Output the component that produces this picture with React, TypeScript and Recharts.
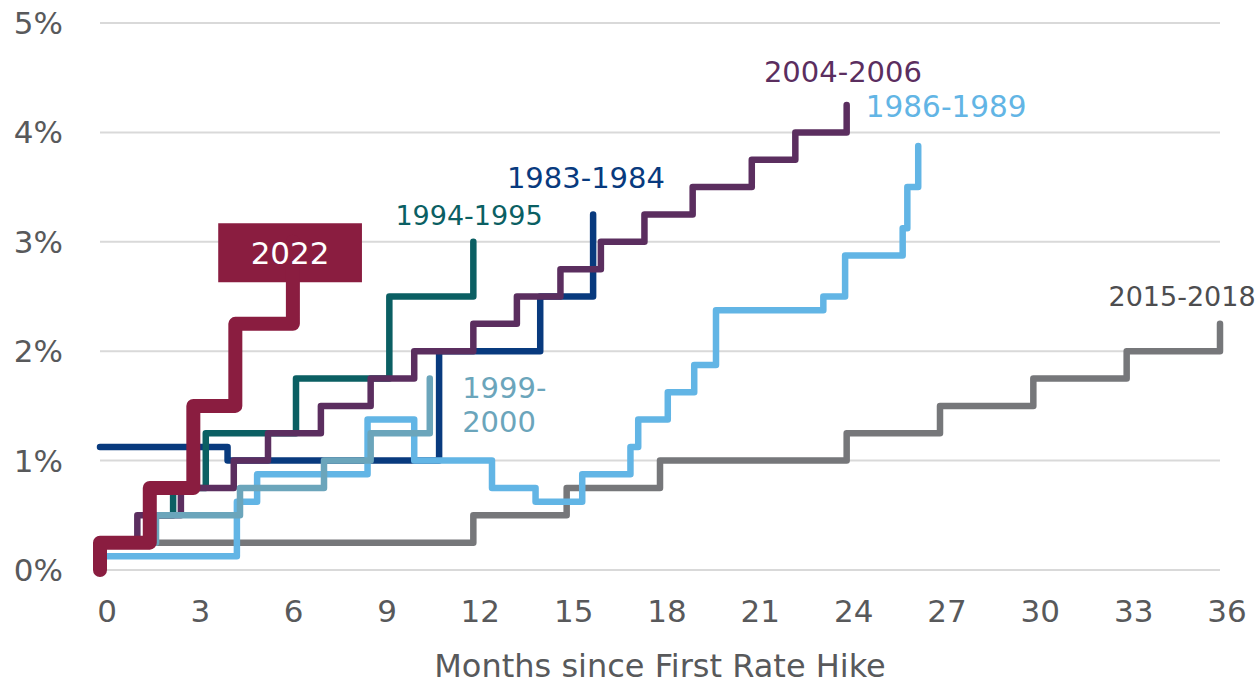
import { CartesianGrid, Line, LineChart, ReferenceArea, ReferenceDot, XAxis, YAxis } from 'recharts';

// months since first hike -> cumulative hikes (percentage points)
const xTicks = [0, 3, 6, 9, 12, 15, 18, 21, 24, 27, 30, 33, 36];
const yTicks = [0, 1, 2, 3, 4, 5];

const hikes2015 = [
  { m: 0, v: 0.25 }, { m: 12, v: 0.5 }, { m: 15, v: 0.75 }, { m: 18, v: 1.0 },
  { m: 24, v: 1.25 }, { m: 27, v: 1.5 }, { m: 30, v: 1.75 }, { m: 33, v: 2.0 }, { m: 36, v: 2.25 },
];

const hikes1983 = [
  { m: 0, v: 1.125 }, { m: 4.1, v: 1.0 }, { m: 10.9, v: 2.0 }, { m: 14.15, v: 2.5 }, { m: 15.85, v: 3.25 },
];

const hikes1994 = [
  { m: 0, v: 0.25 }, { m: 1.5, v: 0.5 }, { m: 2.35, v: 0.75 }, { m: 3.4, v: 1.25 },
  { m: 6.3, v: 1.75 }, { m: 9.3, v: 2.5 }, { m: 12.0, v: 3.0 },
];

const hikes2004 = [
  { m: 0, v: 0.25 }, { m: 1.2, v: 0.5 }, { m: 2.6, v: 0.75 }, { m: 4.3, v: 1.0 }, { m: 5.4, v: 1.25 },
  { m: 7.1, v: 1.5 }, { m: 8.7, v: 1.75 }, { m: 10.1, v: 2.0 }, { m: 12.0, v: 2.25 }, { m: 13.4, v: 2.5 },
  { m: 14.8, v: 2.75 }, { m: 16.1, v: 3.0 }, { m: 17.5, v: 3.25 }, { m: 19.05, v: 3.5 },
  { m: 20.95, v: 3.75 }, { m: 22.35, v: 4.0 }, { m: 24.0, v: 4.25 },
];

const hikes1986 = [
  { m: 0, v: 0.125 }, { m: 4.4, v: 0.625 }, { m: 5.05, v: 0.875 }, { m: 8.6, v: 1.375 },
  { m: 10.1, v: 1.0 }, { m: 12.6, v: 0.75 }, { m: 14.0, v: 0.625 }, { m: 15.5, v: 0.875 },
  { m: 17.05, v: 1.125 }, { m: 17.3, v: 1.375 }, { m: 18.25, v: 1.625 }, { m: 19.1, v: 1.875 },
  { m: 19.8, v: 2.375 }, { m: 23.25, v: 2.5 }, { m: 23.95, v: 2.875 }, { m: 25.8, v: 3.125 },
  { m: 25.95, v: 3.5 }, { m: 26.3, v: 3.875 },
];

const hikes1999 = [
  { m: 0, v: 0.25 }, { m: 1.8, v: 0.5 }, { m: 4.5, v: 0.75 }, { m: 7.2, v: 1.0 },
  { m: 8.7, v: 1.25 }, { m: 10.6, v: 1.75 },
];

const hikes2022 = [
  { m: 0, v: 0 }, { m: 0, v: 0.25 }, { m: 1.6, v: 0.75 }, { m: 3.0, v: 1.5 },
  { m: 4.35, v: 2.25 }, { m: 6.2, v: 3.0 },
];

const series = [
  { name: '2015-2018', data: hikes2015, color: '#76777a', width: 6.5 },
  { name: '1983-1984', data: hikes1983, color: '#083a7e', width: 6.5 },
  { name: '1994-1995', data: hikes1994, color: '#0b5f63', width: 6.5 },
  { name: '2004-2006', data: hikes2004, color: '#5b2e5f', width: 6.5 },
  { name: '1986-1989', data: hikes1986, color: '#62b5e5', width: 6.5 },
  { name: '1999-2000', data: hikes1999, color: '#6ba5bb', width: 6.5 },
  { name: '2022', data: hikes2022, color: '#8a1d40', width: 14 },
];

const labels = [
  { text: '2004-2006', m: 23.88, v: 4.55, color: '#5b2e5f', size: 29, anchor: 'middle' },
  { text: '1986-1989', m: 27.2, v: 4.23, color: '#62b5e5', size: 29.5, anchor: 'middle' },
  { text: '1983-1984', m: 15.62, v: 3.58, color: '#083a7e', size: 29, anchor: 'middle' },
  { text: '1994-1995', m: 11.86, v: 3.24, color: '#0b5f63', size: 27, anchor: 'middle' },
  { text: '2015-2018', m: 34.78, v: 2.5, color: '#4d4d4f', size: 27, anchor: 'middle' },
  { text: '1999-', m: 11.64, v: 1.664, color: '#6ba5bb', size: 29, anchor: 'start' },
  { text: '2000', m: 11.64, v: 1.353, color: '#6ba5bb', size: 29, anchor: 'start' },
];

const font = '"DejaVu Sans", sans-serif';

const YTick = ({ y, payload }: any) => (
  <text x={63} y={y} textAnchor="end" dominantBaseline="central" fontSize={31} fill="#58595b" fontFamily={font}>
    {payload.value}%
  </text>
);

const XTick = ({ x, y, payload }: any) => (
  <text x={x + 7} y={y + 41} textAnchor="middle" dominantBaseline="central" fontSize={31} fill="#58595b" fontFamily={font}>
    {payload.value}
  </text>
);

export default function App() {
  return (
    <div style={{ position: 'absolute', left: 0, top: 0, background: '#fff' }}>
      <LineChart width={1259} height={687} margin={{ top: 23, right: 39, bottom: 0, left: 0 }}>
        <CartesianGrid vertical={false} stroke="#d9d9d9" strokeWidth={2} />
        <XAxis
          dataKey="m"
          type="number"
          domain={[0, 36]}
          ticks={xTicks}
          axisLine={false}
          tickLine={false}
          tickSize={0}
          tickMargin={0}
          height={117}
          tick={<XTick />}
          label={{ value: 'Months since First Rate Hike', position: 'insideBottom', offset: 10, fontSize: 32, fill: '#58595b', fontFamily: font }}
        />
        <YAxis
          type="number"
          domain={[0, 5]}
          ticks={yTicks}
          axisLine={false}
          tickLine={false}
          tickSize={0}
          tickMargin={0}
          width={100}
          tick={<YTick />}
        />
        {series.map((s) => (
          <Line
            key={s.name}
            data={s.data}
            dataKey="v"
            type="stepAfter"
            stroke={s.color}
            strokeWidth={s.width}
            strokeLinejoin="round"
            strokeLinecap="round"
            dot={false}
            activeDot={false}
            isAnimationActive={false}
          />
        ))}
        <ReferenceArea
          x1={3.8}
          x2={8.42}
          y1={2.63}
          y2={3.17}
          fill="#8a1d40"
          fillOpacity={1}
          stroke="none"
          ifOverflow="visible"
          label={{ value: '2022', position: 'center', fill: '#fff', fontSize: 31, fontFamily: font }}
        />
        {labels.map((l) => (
          <ReferenceDot
            key={l.text}
            x={l.m}
            y={l.v}
            r={0}
            ifOverflow="visible"
            shape={(p: any) => (
              <text x={p.cx} y={p.cy} textAnchor={l.anchor} dominantBaseline="central" fontSize={l.size} fill={l.color} fontFamily={font}>
                {l.text}
              </text>
            )}
          />
        ))}
      </LineChart>
    </div>
  );
}
